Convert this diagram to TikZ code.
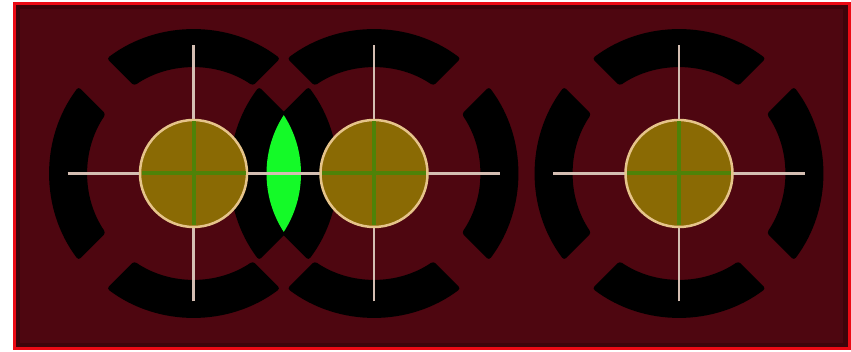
\documentclass[tikz,border=0pt]{standalone}
\usetikzlibrary{calc}
\definecolor{bgmaroon}{RGB}{78,6,16}
\definecolor{bgdark}{RGB}{62,4,10}
\definecolor{frame}{RGB}{235,10,20}
\definecolor{padfill}{RGB}{138,106,4}
\definecolor{padedge}{RGB}{230,196,138}
\definecolor{crossline}{RGB}{212,190,178}
\definecolor{innerline}{RGB}{78,130,8}
\definecolor{lensgreen}{RGB}{20,250,40}
\tikzset{
  ringpart/.style={fill=black,rounded corners=3pt},
  crossstyle/.style={draw=crossline,line width=2.8pt},
  padstyle/.style={fill=padfill,draw=padedge,line width=2.5pt},
  innerstyle/.style={draw=innerline,line width=4pt},
  lensstyle/.style={fill=lensgreen}
}
% ring segment: #1 centre, #2 central angle
\newcommand{\ringseg}[2]{%
  \fill[ringpart] ($(#1)+({#2-45+7.98}:144)$)
    arc[start angle={#2-45+7.98}, end angle={#2+45-7.98}, radius=144]
    -- ($(#1)+({#2+45-10.87}:106)$)
    arc[start angle={#2+45-10.87}, end angle={#2-45+10.87}, radius=106]
    -- cycle;}
\newcommand{\thermalring}[1]{%
  \ringseg{#1}{0}\ringseg{#1}{90}\ringseg{#1}{180}\ringseg{#1}{270}}
\newcommand{\padcross}[1]{%
  \draw[crossstyle] ($(#1)+(-126,0)$) -- ($(#1)+(126,0)$);
  \draw[crossstyle] ($(#1)+(0,-128)$) -- ($(#1)+(0,128)$);}
\newcommand{\padbody}[1]{%
  \draw[padstyle] (#1) circle[radius=53.5];
  \draw[innerstyle] ($(#1)+(-52,0)$) -- ($(#1)+(52,0)$);
  \draw[innerstyle] ($(#1)+(0,-52)$) -- ($(#1)+(0,52)$);}
\begin{document}
\begin{tikzpicture}[x=1pt,y=1pt]
  \useasboundingbox (0,0) rectangle (851,352);
  \fill[white] (0,0) rectangle (851,352);
  \coordinate (frameSW) at (13,2);
  \coordinate (frameNE) at (851,350);
  \fill[bgdark] (frameSW) rectangle (frameNE);
  \fill[bgmaroon] (20,9) rectangle (843,343);
  \draw[frame,line width=3pt] (14.5,3.5) rectangle (849.5,348.5);
  \coordinate (padL) at (193.5,178.5);
  \coordinate (padM) at (374,178.5);
  \coordinate (padR) at (679,178.5);
  \thermalring{padL}
  \thermalring{padM}
  \thermalring{padR}
  \begin{scope}
    \clip (padL) circle[radius=107.5];
    \fill[lensstyle] (padM) circle[radius=107.5];
  \end{scope}
  \padcross{padL}
  \padcross{padM}
  \padcross{padR}
  \padbody{padL}
  \padbody{padM}
  \padbody{padR}
\end{tikzpicture}
\end{document}
